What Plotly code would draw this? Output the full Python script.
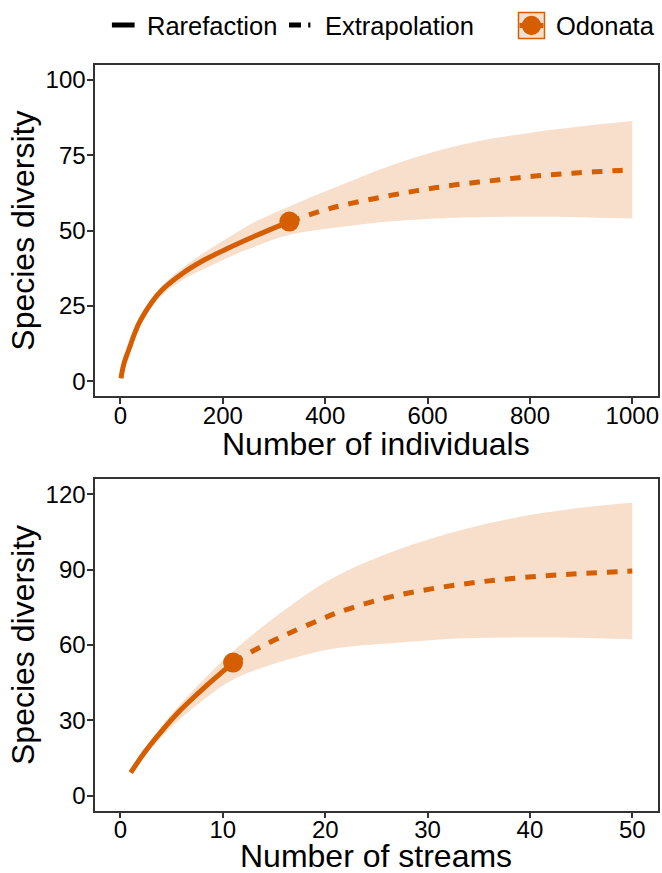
import plotly.graph_objects as go

W, H = 662, 873
ORANGE = "#D55E00"
RIBBON = "rgba(213,94,0,0.2)"
BORDER = "#333333"
FONT = "Liberation Sans, Arial, sans-serif"

# ---------------- data: panel 1 (individuals) ----------------
ind_rare_x = [1, 6, 16, 36, 62, 81, 121, 166, 212, 264, 330]
ind_rare_y = [1.0, 5.4, 10.4, 19.2, 26.4, 30.3, 35.8, 40.5, 44.3, 48.3, 53.0]
ind_ext_x = [330, 410, 495, 577, 655, 737, 815, 896, 978, 1000]
ind_ext_y = [53.0, 57.4, 60.6, 63.2, 65.2, 66.8, 68.2, 69.2, 70.0, 70.2]
ind_ci_x = [1, 20, 50, 81, 121, 166, 212, 264, 330, 410, 541, 671, 801, 932, 1000]
ind_ci_lo = [1.0, 11.6, 22.3, 28.6, 33.6, 37.5, 41.2, 44.8, 48.6, 50.8, 53.3, 54.4, 54.6, 54.3, 54.0]
ind_ci_hi = [1.0, 12.8, 24.3, 31.6, 37.6, 43.0, 47.8, 53.0, 58.0, 63.7, 72.4, 78.7, 82.5, 85.2, 86.4]
ind_obs_x = [330]
ind_obs_y = [53.0]
ind_ticks = [0, 200, 400, 600, 800, 1000]
ind_yticks = [0, 25, 50, 75, 100]

# ---------------- data: panel 2 (streams) ----------------
str_rare_x = [1, 2.4, 4.0, 5.7, 7.3, 8.9, 11]
str_rare_y = [9.2, 17.5, 25.6, 33.4, 39.7, 45.6, 53.0]
str_ext_x = [11, 12.8, 16.1, 19.7, 21.5, 25.4, 29.3, 33.4, 37.3, 41.4, 45.3, 50]
str_ext_y = [53.0, 57.3, 64.0, 70.4, 73.3, 78.2, 81.6, 84.2, 86.1, 87.5, 88.5, 89.5]
str_ci_x = [1, 4, 7.3, 11, 15.4, 20.5, 27, 33.5, 40, 46.5, 50]
str_ci_lo = [8.7, 23.4, 35.6, 46.2, 53.0, 58.3, 60.9, 62.7, 63.0, 62.7, 62.3]
str_ci_hi = [9.7, 27.6, 42.8, 57.5, 72.0, 86.1, 97.8, 106.0, 111.7, 115.3, 116.6]
str_obs_x = [11]
str_obs_y = [53.0]
str_ticks = [0, 10, 20, 30, 40, 50]
str_yticks = [0, 30, 60, 90, 120]

legend_labels = ["Rarefaction", "Extrapolation", "Odonata"]
x_titles = ["Number of individuals", "Number of streams"]
y_title = "Species diversity"


def px(x):
    return x / W


def py(y):
    return 1 - y / H


fig = go.Figure()


def add_panel(xa, ya, cx, lo, hi, rx, ry, ex, ey, ox, oy):
    fig.add_trace(go.Scatter(x=cx, y=hi, mode="lines", line=dict(width=0, shape="spline"),
                             hoverinfo="skip", showlegend=False, xaxis=xa, yaxis=ya))
    fig.add_trace(go.Scatter(x=cx, y=lo, mode="lines", line=dict(width=0, shape="spline"),
                             fill="tonexty", fillcolor=RIBBON, hoverinfo="skip",
                             showlegend=False, xaxis=xa, yaxis=ya))
    fig.add_trace(go.Scatter(x=ex, y=ey, mode="lines",
                             line=dict(color=ORANGE, width=5, dash="10.5px,10px", shape="spline"),
                             showlegend=False, xaxis=xa, yaxis=ya))
    fig.add_trace(go.Scatter(x=rx, y=ry, mode="lines",
                             line=dict(color=ORANGE, width=5, shape="spline"),
                             showlegend=False, xaxis=xa, yaxis=ya))
    fig.add_trace(go.Scatter(x=ox, y=oy, mode="markers",
                             marker=dict(color=ORANGE, size=20, line=dict(width=0)),
                             showlegend=False, xaxis=xa, yaxis=ya))


add_panel("x", "y", ind_ci_x, ind_ci_lo, ind_ci_hi, ind_rare_x, ind_rare_y,
          ind_ext_x, ind_ext_y, ind_obs_x, ind_obs_y)
add_panel("x2", "y2", str_ci_x, str_ci_lo, str_ci_hi, str_rare_x, str_rare_y,
          str_ext_x, str_ext_y, str_obs_x, str_obs_y)

xdom = [px(94.9), px(657.9)]
ydom1 = [py(396.4), py(64.9)]
ydom2 = [py(810.8), py(479.2)]

axis_common = dict(showline=True, mirror=True, linecolor=BORDER, linewidth=2,
                   ticks="outside", ticklen=5.5, tickwidth=1.5, tickcolor=BORDER,
                   showgrid=False, zeroline=False,
                   tickfont=dict(family=FONT, size=24, color="black"))

fig.update_layout(
    width=W, height=H,
    margin=dict(l=0, r=0, t=0, b=0),
    paper_bgcolor="white", plot_bgcolor="white",
    showlegend=False,
    xaxis=dict(domain=xdom, range=[-50, 1050], tickvals=ind_ticks, anchor="y",
               ticklabelstandoff=-9, **axis_common),
    yaxis=dict(domain=ydom1, range=[-5, 105], tickvals=ind_yticks, anchor="x",
               ticklabelstandoff=-3, **axis_common),
    xaxis2=dict(domain=xdom, range=[-2.5, 52.5], tickvals=str_ticks, anchor="y2",
                ticklabelstandoff=-9, **axis_common),
    yaxis2=dict(domain=ydom2, range=[-6, 126], tickvals=str_yticks, anchor="x2",
                ticklabelstandoff=-3, **axis_common),
)

ann = []
title_font = dict(family=FONT, size=32, color="black")
ann.append(dict(x=px(376.4), y=py(444), xref="paper", yref="paper", text=x_titles[0],
                showarrow=False, font=title_font, xanchor="center", yanchor="middle"))
ann.append(dict(x=px(376.4), y=py(856), xref="paper", yref="paper", text=x_titles[1],
                showarrow=False, font=title_font, xanchor="center", yanchor="middle"))
ann.append(dict(x=px(23), y=py(230.7), xref="paper", yref="paper", text=y_title,
                showarrow=False, font=title_font, textangle=-90, xanchor="center", yanchor="middle"))
ann.append(dict(x=px(23), y=py(645), xref="paper", yref="paper", text=y_title,
                showarrow=False, font=title_font, textangle=-90, xanchor="center", yanchor="middle"))

leg_font = dict(family=FONT, size=25.5, color="black")
leg_y = 25.5
for lbl, lx in zip(legend_labels, [145.5, 323.7, 554.6]):
    ann.append(dict(x=px(lx), y=py(leg_y), xref="paper", yref="paper", text=lbl,
                    showarrow=False, font=leg_font, xanchor="left", yanchor="middle",
                    xshift=-1))

shapes = []
# legend keys
shapes.append(dict(type="line", xref="paper", yref="paper", x0=px(111.9), x1=px(134.6),
                   y0=py(25), y1=py(25), line=dict(color="black", width=5)))
shapes.append(dict(type="line", xref="paper", yref="paper", x0=px(289), x1=px(301),
                   y0=py(25), y1=py(25), line=dict(color="black", width=5)))
shapes.append(dict(type="line", xref="paper", yref="paper", x0=px(308.2), x1=px(310.4),
                   y0=py(25), y1=py(25), line=dict(color="black", width=5)))
shapes.append(dict(type="rect", xref="paper", yref="paper", x0=px(518.5), x1=px(544.5),
                   y0=py(38.5), y1=py(12.5), fillcolor=RIBBON,
                   line=dict(color=ORANGE, width=1.5)))
shapes.append(dict(type="line", xref="paper", yref="paper", x0=px(519.5), x1=px(543.5),
                   y0=py(25.5), y1=py(25.5), line=dict(color=ORANGE, width=5)))
shapes.append(dict(type="circle", xref="paper", yref="paper", x0=px(521.8), x1=px(541.2),
                   y0=py(35.2), y1=py(15.8), fillcolor=ORANGE, line=dict(width=0)))

fig.update_layout(annotations=ann, shapes=shapes)

fig.write_html(
    "out.html",
    config={"displayModeBar": False},
    post_script="document.body.style.margin='0';document.body.style.overflow='hidden';",
)
